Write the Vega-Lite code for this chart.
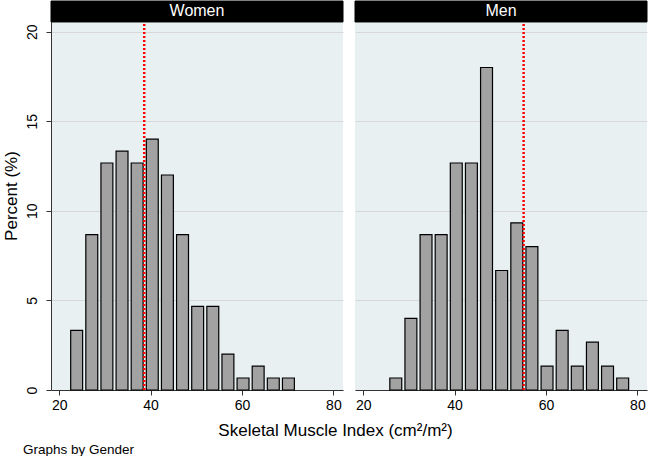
{
  "$schema": "https://vega.github.io/schema/vega-lite/v6.json",
  "background": "white",
  "padding": {"left": 1, "top": 0, "right": 0, "bottom": 2},
  "config": {
    "font": "Liberation Sans",
    "view": {"stroke": null},
    "axis": {"labelFont": "Liberation Sans", "titleFont": "Liberation Sans", "labelColor": "#000", "titleColor": "#000", "titleFontWeight": "normal"}
  },
  "datasets": {
    "bins": [
      {"gender": "Women", "lo": 22.05, "hi": 25.36, "pct": 3.33},
      {"gender": "Women", "lo": 25.36, "hi": 28.67, "pct": 8.67},
      {"gender": "Women", "lo": 28.67, "hi": 31.98, "pct": 12.67},
      {"gender": "Women", "lo": 31.98, "hi": 35.29, "pct": 13.33},
      {"gender": "Women", "lo": 35.29, "hi": 38.60, "pct": 12.67},
      {"gender": "Women", "lo": 38.60, "hi": 41.91, "pct": 14.0},
      {"gender": "Women", "lo": 41.91, "hi": 45.22, "pct": 12.0},
      {"gender": "Women", "lo": 45.22, "hi": 48.53, "pct": 8.67},
      {"gender": "Women", "lo": 48.53, "hi": 51.84, "pct": 4.67},
      {"gender": "Women", "lo": 51.84, "hi": 55.15, "pct": 4.67},
      {"gender": "Women", "lo": 55.15, "hi": 58.46, "pct": 2.0},
      {"gender": "Women", "lo": 58.46, "hi": 61.77, "pct": 0.67},
      {"gender": "Women", "lo": 61.77, "hi": 65.08, "pct": 1.33},
      {"gender": "Women", "lo": 65.08, "hi": 68.39, "pct": 0.67},
      {"gender": "Women", "lo": 68.39, "hi": 71.70, "pct": 0.67},
      {"gender": "Men", "lo": 25.36, "hi": 28.67, "pct": 0.67},
      {"gender": "Men", "lo": 28.67, "hi": 31.98, "pct": 4.0},
      {"gender": "Men", "lo": 31.98, "hi": 35.29, "pct": 8.67},
      {"gender": "Men", "lo": 35.29, "hi": 38.60, "pct": 8.67},
      {"gender": "Men", "lo": 38.60, "hi": 41.91, "pct": 12.67},
      {"gender": "Men", "lo": 41.91, "hi": 45.22, "pct": 12.67},
      {"gender": "Men", "lo": 45.22, "hi": 48.53, "pct": 18.0},
      {"gender": "Men", "lo": 48.53, "hi": 51.84, "pct": 6.67},
      {"gender": "Men", "lo": 51.84, "hi": 55.15, "pct": 9.33},
      {"gender": "Men", "lo": 55.15, "hi": 58.46, "pct": 8.0},
      {"gender": "Men", "lo": 58.46, "hi": 61.77, "pct": 1.33},
      {"gender": "Men", "lo": 61.77, "hi": 65.08, "pct": 3.33},
      {"gender": "Men", "lo": 65.08, "hi": 68.39, "pct": 1.33},
      {"gender": "Men", "lo": 68.39, "hi": 71.70, "pct": 2.67},
      {"gender": "Men", "lo": 71.70, "hi": 75.01, "pct": 1.33},
      {"gender": "Men", "lo": 75.01, "hi": 78.32, "pct": 0.67}
    ],
    "cuts": [
      {"gender": "Women", "cut": 38.6},
      {"gender": "Men", "cut": 55.1}
    ]
  },
  "title": {"text": "Graphs by Gender", "orient": "bottom", "anchor": "start", "fontSize": 13.5, "fontWeight": "normal", "font": "Liberation Sans", "color": "#000", "offset": 5, "dx": 21},
  "bounds": "flush",
  "spacing": 12,
  "hconcat": [
    {
      "width": 292,
      "height": 389,
      "view": {"fill": "#e8f0f2", "stroke": null},
      "layer": [
        {
          "data": {"name": "bins"},
          "transform": [{"filter": "datum.gender === 'Women'"}],
          "mark": {"type": "bar", "fill": "#a2a2a2", "stroke": "#000", "strokeWidth": 1.2, "binSpacing": 3.2},
          "encoding": {
            "x": {"field": "lo", "type": "quantitative", "bin": "binned",
              "scale": {"domain": [18.2, 82.1], "nice": false, "zero": false},
              "axis": {"values": [20, 40, 60, 80], "format": "d", "labelFontSize": 14, "tickSize": 5, "tickColor": "#333", "domainColor": "#333", "labelPadding": 3, "grid": false,
                "title": "Skeletal Muscle Index (cm²/m²)", "titleFontSize": 17, "titleAnchor": null, "titleAlign": "center", "titleX": 284, "titleY": 45, "titleBaseline": "alphabetic"}},
            "x2": {"field": "hi"},
            "y": {"field": "pct", "type": "quantitative",
              "scale": {"domain": [0, 21.71], "nice": false, "zero": true},
              "axis": {"values": [0, 5, 10, 15, 20], "labelAngle": -90, "labelAlign": "center", "labelBaseline": "bottom", "labelFontSize": 14, "labelPadding": 7, "tickSize": 5, "tickColor": "#333", "domainColor": "#333", "grid": true, "gridColor": "#d8d8d8", "gridWidth": 1,
                "title": "Percent (%)", "titleFontSize": 17, "titlePadding": 5}}
          }
        },
        {
          "data": {"name": "cuts"},
          "transform": [{"filter": "datum.gender === 'Women'"}],
          "mark": {"type": "rule", "color": "#ff0000", "strokeWidth": 2.5, "strokeDash": [2, 2]},
          "encoding": {
            "x": {"field": "cut", "type": "quantitative"},
            "y": {"datum": 0},
            "y2": {"datum": 20.54}
          }
        },
        {
          "data": {"values": [{"panel": "Women"}]},
          "mark": {"type": "rect", "fill": "#000", "stroke": "#000"},
          "encoding": {"y": {"datum": 20.54}, "y2": {"datum": 21.71}}
        },
        {
          "data": {"values": [{"panel": "Women"}]},
          "mark": {"type": "text", "color": "#fff", "fontSize": 16, "baseline": "middle", "align": "center"},
          "encoding": {"y": {"datum": 21.125}, "text": {"field": "panel"}}
        }
      ]
    },
    {
      "width": 292,
      "height": 389,
      "view": {"fill": "#e8f0f2", "stroke": null},
      "layer": [
        {
          "data": {"name": "bins"},
          "transform": [{"filter": "datum.gender === 'Men'"}],
          "mark": {"type": "bar", "fill": "#a2a2a2", "stroke": "#000", "strokeWidth": 1.2, "binSpacing": 3.2},
          "encoding": {
            "x": {"field": "lo", "type": "quantitative", "bin": "binned",
              "scale": {"domain": [18.2, 82.1], "nice": false, "zero": false},
              "axis": {"values": [20, 40, 60, 80], "format": "d", "labelFontSize": 14, "tickSize": 5, "tickColor": "#333", "domainColor": "#333", "labelPadding": 3, "grid": false, "title": null}},
            "x2": {"field": "hi"},
            "y": {"field": "pct", "type": "quantitative",
              "scale": {"domain": [0, 21.71], "nice": false, "zero": true},
              "axis": {"values": [0, 5, 10, 15, 20], "labels": false, "ticks": false, "domain": false, "grid": true, "gridColor": "#d8d8d8", "gridWidth": 1, "title": null}}
          }
        },
        {
          "data": {"name": "cuts"},
          "transform": [{"filter": "datum.gender === 'Men'"}],
          "mark": {"type": "rule", "color": "#ff0000", "strokeWidth": 2.5, "strokeDash": [2, 2]},
          "encoding": {
            "x": {"field": "cut", "type": "quantitative"},
            "y": {"datum": 0},
            "y2": {"datum": 20.54}
          }
        },
        {
          "data": {"values": [{"panel": "Men"}]},
          "mark": {"type": "rect", "fill": "#000", "stroke": "#000"},
          "encoding": {"y": {"datum": 20.54}, "y2": {"datum": 21.71}}
        },
        {
          "data": {"values": [{"panel": "Men"}]},
          "mark": {"type": "text", "color": "#fff", "fontSize": 16, "baseline": "middle", "align": "center"},
          "encoding": {"y": {"datum": 21.125}, "text": {"field": "panel"}}
        }
      ]
    }
  ]
}
